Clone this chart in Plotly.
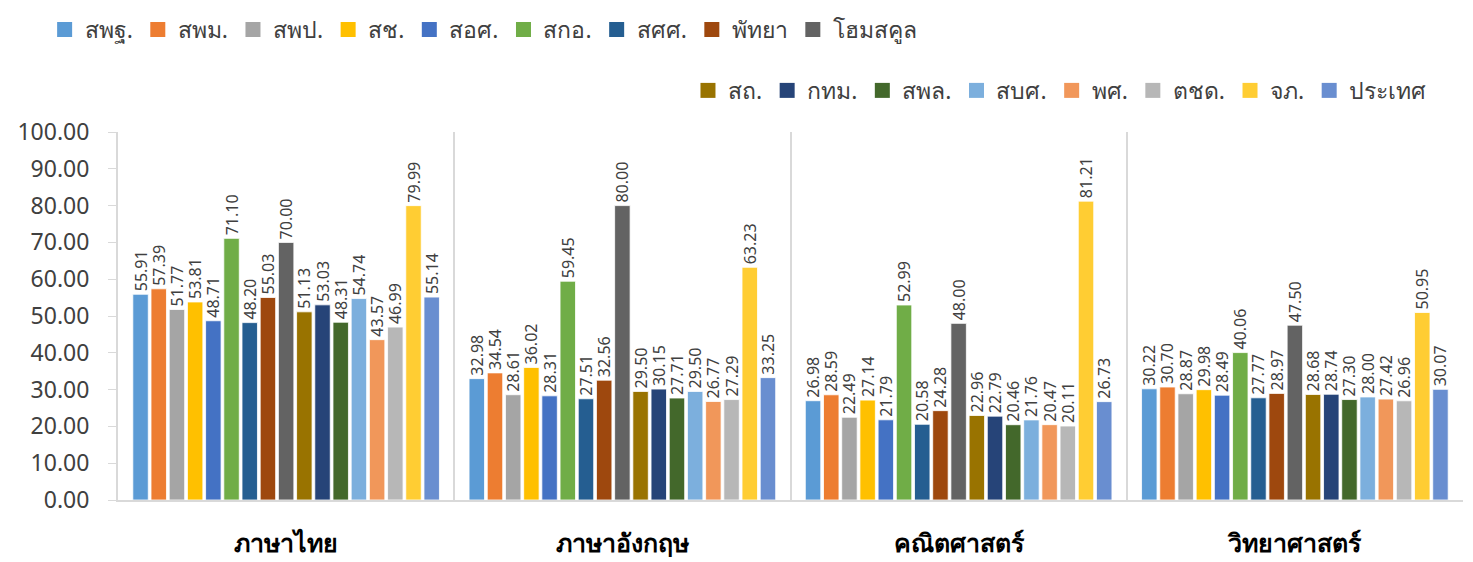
import plotly.graph_objects as go

categories = ["ภาษาไทย", "ภาษาอังกฤษ", "คณิตศาสตร์", "วิทยาศาสตร์"]
series_names = ["สพฐ.", "สพม.", "สพป.", "สช.", "สอศ.", "สกอ.", "สศศ.", "พัทยา", "โฮมสคูล",
                "สถ.", "กทม.", "สพล.", "สบศ.", "พศ.", "ตชด.", "จภ.", "ประเทศ"]
colors = ["#5B9BD5", "#ED7D31", "#A5A5A5", "#FFC000", "#4472C4", "#70AD47", "#255E91",
          "#9E480E", "#636363", "#997300", "#264478", "#43682B", "#7CAFDD", "#F1975A",
          "#B7B7B7", "#FFCD33", "#698ED0"]

thai = [55.91, 57.39, 51.77, 53.81, 48.71, 71.10, 48.20, 55.03, 70.00, 51.13, 53.03, 48.31, 54.74, 43.57, 46.99, 79.99, 55.14]
english = [32.98, 34.54, 28.61, 36.02, 28.31, 59.45, 27.51, 32.56, 80.00, 29.50, 30.15, 27.71, 29.50, 26.77, 27.29, 63.23, 33.25]
math = [26.98, 28.59, 22.49, 27.14, 21.79, 52.99, 20.58, 24.28, 48.00, 22.96, 22.79, 20.46, 21.76, 20.47, 20.11, 81.21, 26.73]
science = [30.22, 30.70, 28.87, 29.98, 28.49, 40.06, 27.77, 28.97, 47.50, 28.68, 28.74, 27.30, 28.00, 27.42, 26.96, 50.95, 30.07]

subjects = [thai, english, math, science]

fig = go.Figure()
for i, name in enumerate(series_names):
    vals = [s[i] for s in subjects]
    fig.add_trace(go.Bar(
        x=categories, y=vals, name=name, showlegend=False,
        marker=dict(color=colors[i], line=dict(color="white", width=0.8)),
        text=[f"{v:.2f}" for v in vals], textposition="outside", textangle=-90,
        textfont=dict(size=16, color="#404040"), cliponaxis=False,
    ))
# legend entries with square swatches
for i, name in enumerate(series_names):
    fig.add_trace(go.Scatter(
        x=[None], y=[None], mode="markers", name=name,
        marker=dict(symbol="square", size=15, color=colors[i]),
        legend="legend" if i < 9 else "legend2", hoverinfo="skip",
    ))

legend_font = dict(size=23, color="#404040", family="Noto Sans, DejaVu Sans, sans-serif")
fig.update_layout(
    width=1465, height=554,
    barmode="group", bargap=0.08, bargroupgap=0.15,
    plot_bgcolor="white", paper_bgcolor="white",
    margin=dict(l=110, r=10, t=124, b=62, autoexpand=False),
    font=dict(family="Noto Sans, DejaVu Sans, sans-serif", color="#404040"),
    uniformtext=dict(minsize=8, mode="show"),
    legend=dict(orientation="h", xref="container", x=0.025, xanchor="left",
                yref="container", y=1.0, yanchor="top",
                font=legend_font, itemwidth=30, traceorder="normal"),
    legend2=dict(orientation="h", xref="container", x=0.972, xanchor="right",
                 yref="container", y=0.89, yanchor="top",
                 font=legend_font, itemwidth=30, traceorder="normal"),
    xaxis=dict(type="category", tickson="boundaries", showgrid=True, gridcolor="#D9D9D9", gridwidth=2,
               showline=True, linecolor="#D9D9D9", linewidth=2, ticks="",
               tickfont=dict(size=25, color="black", family="Noto Sans, DejaVu Sans, sans-serif", weight="bold"),
               ticklabelstandoff=20),
    yaxis=dict(range=[0, 100], dtick=10, tickformat=".2f", showgrid=False, zeroline=False,
               showline=True, linecolor="#D9D9D9", linewidth=2, ticks="outside", ticklen=8,
               tickcolor="#D9D9D9", tickfont=dict(size=23, color="#404040"),
               ticklabelstandoff=14),
)

fig.write_html("out.html")
